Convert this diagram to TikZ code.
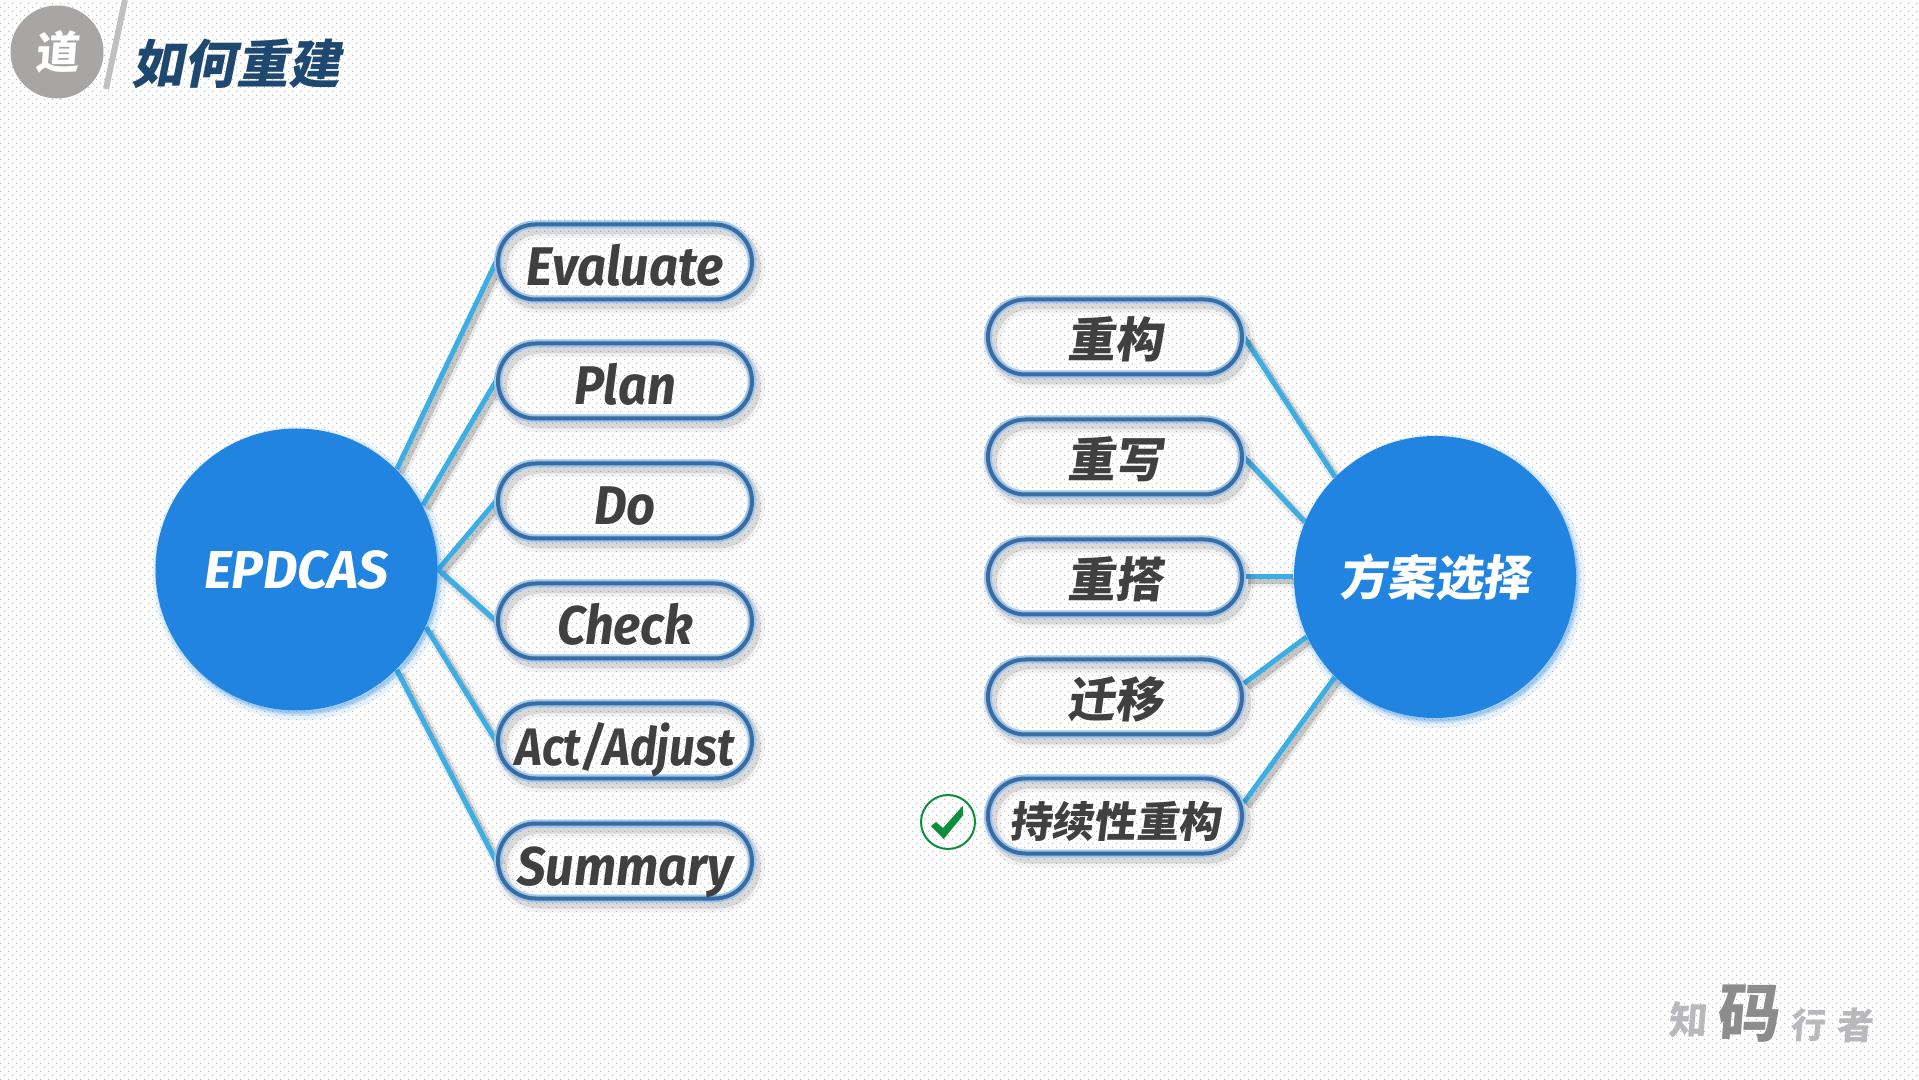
\documentclass[tikz,border=0pt]{standalone}
\usepackage{fontspec}
\usepackage{xcolor}
\usetikzlibrary{patterns}
\setmainfont{Fira Sans}
\newfontfamily\latinnarrow{Fira Sans}[FakeStretch=0.93]
\newfontfamily\latintight{Fira Sans}[FakeStretch=0.87]
\newfontfamily\cjkfont{Noto Sans CJK SC}[FakeSlant=0.2]
\newfontfamily\cjkpill{Noto Sans CJK SC}[FakeSlant=0.13]
\newfontfamily\cjkplain{Noto Sans CJK SC}[FakeSlant=0.08]

\definecolor{hubblue}{HTML}{2084E0}
\definecolor{linkblue}{HTML}{3BAEE6}
\definecolor{pillline}{HTML}{3B6CA0}
\definecolor{pillglow}{HTML}{9CC6F0}
\definecolor{inkgray}{HTML}{404040}
\definecolor{titleblue}{HTML}{1F4870}
\definecolor{badgegray}{HTML}{A8A5A5}
\definecolor{bargray}{HTML}{C0C0C0}
\definecolor{checkgreen}{HTML}{0C8F3C}
\definecolor{dotgray}{HTML}{BCBCBC}
\definecolor{markgray}{HTML}{B9B9BD}

\pgfdeclarepatternformonly{bgdots}{\pgfpointorigin}{\pgfqpoint{2.2762pt}{2.2762pt}}{\pgfqpoint{2.2762pt}{2.2762pt}}{
  \pgfpathrectangle{\pgfqpoint{0pt}{0pt}}{\pgfqpoint{.3pt}{.3pt}}
  \pgfpathrectangle{\pgfqpoint{1.1381pt}{1.1381pt}}{\pgfqpoint{.3pt}{.3pt}}
  \pgfusepath{fill}
}
\pgfdeclarelayer{background}
\pgfsetlayers{background,main}

\tikzset{
  hubnode/.style={circle, fill=hubblue, minimum size=2.82cm, inner sep=0pt, text=white,
    preaction={fill=hubblue, fill opacity=.12, draw=hubblue, draw opacity=.10, line width=.12cm, transform canvas={shift={(.03,-.04)}}},
    preaction={fill=hubblue, fill opacity=.15, draw=hubblue, draw opacity=.15, line width=.05cm, transform canvas={shift={(.02,-.03)}}}},
  pillbox/.style={rectangle, rounded corners=.375cm, minimum width=2.54cm, minimum height=.75cm, inner sep=0pt,
    draw=pillline, line width=.04cm, text=inkgray, text height=.42cm, text depth=0pt,
    preaction={draw=black, draw opacity=.05, line width=.18cm, transform canvas={shift={(.04,-.05)}}},
    preaction={draw=black, draw opacity=.10, line width=.10cm, transform canvas={shift={(.04,-.05)}}},
    preaction={draw=pillglow, line width=.08cm}},
  linkline/.style={draw=linkblue, line width=.05cm,
    preaction={draw=black, draw opacity=.08, line width=.12cm, transform canvas={shift={(.04,-.04)}}},
    preaction={draw=black, draw opacity=.16, line width=.06cm, transform canvas={shift={(.04,-.04)}}}},
  latintext/.style={text height=.48cm, font=\fontsize{15.5}{18}\selectfont\latinnarrow\bfseries\itshape},
  cjktext/.style={font=\fontsize{13.6}{16}\selectfont\cjkpill\bfseries},
  marktext/.style={text=markgray, inner sep=0pt, font=\fontsize{#1}{#1}\selectfont\cjkplain\bfseries},
}

\begin{document}
\begin{tikzpicture}
\useasboundingbox (0,0) rectangle (19.19,10.79);

% hubs
\node[hubnode, font=\fontsize{15.2}{18}\selectfont\bfseries\itshape] (epdcas) at (2.965,5.095) {EPDCAS};
\node[hubnode, font=\fontsize{13.6}{16}\selectfont\cjkpill\bfseries] (choice) at (14.35,5.02) {方案选择};

% left pills
\node[pillbox, latintext] (evaluate) at (6.25,8.17) {Evaluate};
\node[pillbox, latintext] (plan) at (6.25,6.98) {Plan};
\node[pillbox, latintext] (do) at (6.25,5.78) {Do};
\node[pillbox, latintext] (check) at (6.25,4.58) {Check};
\node[pillbox, text height=.48cm, font=\fontsize{15}{18}\selectfont\latintight\bfseries\itshape] (act) at (6.25,3.38) {Act/Adjust};
\node[pillbox, latintext] (summary) at (6.25,2.18) {Summary};

% right pills
\node[pillbox, cjktext] (refactor) at (11.15,7.42) {重构};
\node[pillbox, cjktext] (rewrite) at (11.15,6.22) {重写};
\node[pillbox, cjktext] (rebuild) at (11.15,5.02) {重搭};
\node[pillbox, cjktext] (migrate) at (11.15,3.82) {迁移};
\node[pillbox, font=\fontsize{12}{14}\selectfont\cjkpill\bfseries] (continuous) at (11.15,2.63) {持续性重构};

% connectors
\begin{pgfonlayer}{background}
\fill[white] (0,0) rectangle (19.19,10.79);
\fill[pattern=bgdots, pattern color=dotgray] (0,0) rectangle (19.19,10.79);
\draw[linkline] (epdcas.45) -- (evaluate.west);
\draw[linkline] (epdcas.27) -- (plan.west);
\draw[linkline] (epdcas.east) -- (do.west);
\draw[linkline] (epdcas.east) -- (check.west);
\draw[linkline] (epdcas.-24) -- (act.west);
\draw[linkline] (epdcas.-45) -- (summary.west);
\draw[linkline] (refactor.east) -- (choice.135);
\draw[linkline] (rewrite.east) -- (choice.157);
\draw[linkline] (rebuild.east) -- (choice.west);
\draw[linkline] (migrate.6) -- (choice.205);
\draw[linkline] (continuous.6) -- (choice.225);
\end{pgfonlayer}

% check mark
\node[circle, draw=checkgreen, line width=.02cm, minimum size=.54cm, inner sep=0pt] (tick) at (9.48,2.57) {};
\fill[checkgreen] (9.31,2.53) -- (9.36,2.57) -- (9.43,2.51) -- (9.627,2.73) -- (9.633,2.64) -- (9.437,2.40) -- cycle;

% title bar
\node[circle, fill=badgegray, minimum size=.93cm, inner sep=0pt, text=white, font=\fontsize{12.5}{14}\selectfont\cjkplain\bfseries] (badge) at (.57,10.27) {道};
\draw[bargray, line width=.06cm] (1.25,10.79) -- (1.06,9.90);
\node[text=titleblue, inner sep=0pt, font=\fontsize{14.8}{18}\selectfont\cjkfont\bfseries] (title) at (2.36,10.15) {如何重建};

% watermark
\node[marktext=11] (markone) at (16.88,.59) {知};
\node[marktext=18, text=black!45] (marktwo) at (17.48,.65) {码};
\node[marktext=10] (markthree) at (18.08,.54) {行};
\node[marktext=10.5] (markfour) at (18.55,.54) {者};
\end{tikzpicture}
\end{document}
